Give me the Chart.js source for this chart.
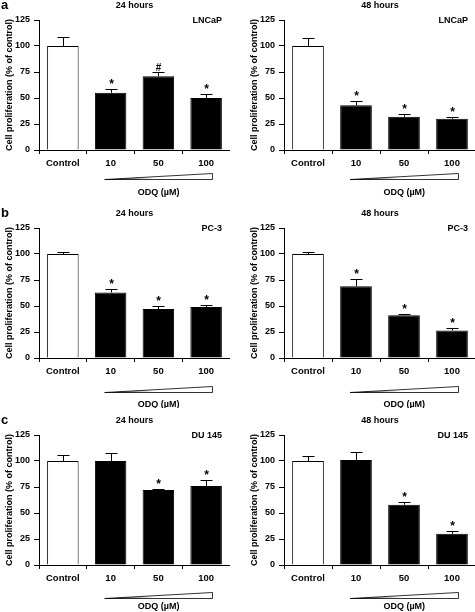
<!DOCTYPE html>
<html>
<head>
<meta charset="utf-8">
<script src="https://cdn.jsdelivr.net/npm/chart.js@4.4.1/dist/chart.umd.min.js"></script>
<style>
  html, body { margin: 0; padding: 0; background: #fff; width: 475px; height: 612px; overflow: hidden; }
  canvas { position: absolute; }
</style>
</head>
<body>
<canvas id="a24" width="230" height="200" style="left:0;top:0"></canvas>
<canvas id="a48" width="231" height="200" style="left:245px;top:0"></canvas>
<canvas id="b24" width="230" height="200" style="left:0;top:208px"></canvas>
<canvas id="b48" width="231" height="200" style="left:245px;top:208px"></canvas>
<canvas id="c24" width="230" height="200" style="left:0;top:415px"></canvas>
<canvas id="c48" width="231" height="200" style="left:245px;top:415px"></canvas>
<script>
// categories and values (% of control)
const categories = ['Control', '10', '50', '100'];
const yTicks = [0, 25, 50, 75, 100, 125];

const lncap24 = [100, 55, 71, 50];
const lncap24Err = [9, 4, 4, 4];
const lncap24Marks = ['', '*', '#', '*'];

const lncap48 = [100, 43, 32, 30];
const lncap48Err = [7.5, 4, 2.5, 1.5];
const lncap48Marks = ['', '*', '*', '*'];

const pc3_24 = [100, 63, 47, 49];
const pc3_24Err = [2, 3, 3, 2];
const pc3_24Marks = ['', '*', '*', '*'];

const pc3_48 = [100, 69, 41, 26.5];
const pc3_48Err = [2, 6.5, 1.5, 2.5];
const pc3_48Marks = ['', '*', '*', '*'];

const du24 = [100, 100, 72, 76];
const du24Err = [6, 8, 1.5, 6];
const du24Marks = ['', '', '*', '*'];

const du48 = [100, 101, 58, 30];
const du48Err = [5, 8, 3, 2.5];
const du48Marks = ['', '', '*', '*'];

const FAMILY = '"Liberation Sans", Arial, Helvetica, sans-serif';
const font = (size) => ({ family: FAMILY, size: size, weight: 'bold' });

// draws error bars, significance marks, titles and the ODQ wedge
const panelDeco = {
  id: 'panelDeco',
  afterDatasetsDraw(chart, args, o) {
    const ctx = chart.ctx, xs = chart.scales.x, ys = chart.scales.y;
    const vals = chart.data.datasets[0].data;
    ctx.save();
    ctx.strokeStyle = '#000';
    ctx.fillStyle = '#000';
    ctx.lineWidth = 1;
    vals.forEach((v, i) => {
      const px = Math.round(xs.getPixelForValue(i)) + 0.5;
      const y0 = ys.getPixelForValue(v);
      const y1 = Math.round(ys.getPixelForValue(v + o.err[i])) + 0.5;
      ctx.beginPath();
      ctx.moveTo(px, y0);
      ctx.lineTo(px, y1);
      ctx.moveTo(px - 6, y1);
      ctx.lineTo(px + 6, y1);
      ctx.stroke();
      const m = o.marks[i];
      if (m) {
        ctx.textAlign = 'center';
        ctx.textBaseline = 'alphabetic';
        ctx.font = m === '#' ? 'bold 10px ' + FAMILY : 'bold 12px ' + FAMILY;
        ctx.fillText(m, px, y1 - 2);
      }
    });
    ctx.restore();
  },
  afterDraw(chart, args, o) {
    const ctx = chart.ctx, xs = chart.scales.x, area = chart.chartArea;
    ctx.save();
    ctx.fillStyle = '#000';
    ctx.textBaseline = 'middle';
    if (o.letter) {
      ctx.font = 'bold 13px ' + FAMILY;
      ctx.textAlign = 'left';
      ctx.fillText(o.letter, 1, area.top - 15);
    }
    ctx.font = 'bold 9px ' + FAMILY;
    ctx.textAlign = 'center';
    ctx.fillText(o.title, (area.left + area.right) / 2, area.top - 14);
    ctx.textAlign = 'right';
    ctx.fillText(o.cell, area.right - 8, area.top + 1);

    // dose wedge
    const x1 = xs.getPixelForValue(1) - 6;
    const x2 = Math.round(xs.getPixelForValue(3) + 6) + 0.5;
    const yb = Math.round(area.bottom + o.wedgeY) + 0.5;
    const yt = yb - 6;
    const g = ctx.createLinearGradient(x1, 0, x2, 0);
    g.addColorStop(0, '#222');
    g.addColorStop(0.45, '#fff');
    g.addColorStop(1, '#fff');
    ctx.beginPath();
    ctx.moveTo(x1, yb);
    ctx.lineTo(x2, yb);
    ctx.lineTo(x2, yt);
    ctx.closePath();
    ctx.fillStyle = g;
    ctx.fill();
    ctx.strokeStyle = '#000';
    ctx.lineWidth = 0.8;
    ctx.stroke();

    ctx.fillStyle = '#000';
    ctx.textAlign = 'center';
    ctx.fillText('ODQ (\u00B5M)', (x1 + x2) / 2, area.bottom + o.labelY);
    ctx.restore();
  }
};

function makePanel(id, values, errs, marks, deco) {
  const ctx = document.getElementById(id).getContext('2d');
  return new Chart(ctx, {
    type: 'bar',
    data: {
      labels: categories,
      datasets: [{
        data: values,
        backgroundColor: ['#fff', '#000', '#000', '#000'],
        borderColor: '#000',
        borderWidth: 1,
        barPercentage: 0.66,
        categoryPercentage: 1
      }]
    },
    options: {
      responsive: false,
      animation: false,
      events: [],
      layout: { padding: { top: 20, left: 0, right: 0, bottom: 0 } },
      plugins: {
        legend: { display: false },
        tooltip: { enabled: false },
        panelDeco: Object.assign({ err: errs, marks: marks }, deco)
      },
      scales: {
        x: {
          afterFit: (s) => { s.height = 50; },
          grid: { offset: true, drawOnChartArea: false, drawTicks: true, tickLength: 4, color: '#000', lineWidth: 1 },
          border: { color: '#000', width: 1 },
          ticks: { color: '#000', font: font(9.5), padding: 4, maxRotation: 0 }
        },
        y: {
          min: 0,
          max: 125,
          afterFit: (s) => { s.width = 39; },
          afterBuildTicks: (s) => { s.ticks = yTicks.map(v => ({ value: v })); },
          grid: { drawOnChartArea: false, drawTicks: true, tickLength: 5, color: '#000', lineWidth: 1 },
          border: { color: '#000', width: 1 },
          ticks: { color: '#000', font: font(9), padding: 4 },
          title: {
            display: true,
            text: 'Cell proliferation (% of control)',
            color: '#000',
            font: font(9),
            padding: { top: 4, bottom: 0 }
          }
        }
      }
    },
    plugins: [panelDeco]
  });
}

makePanel('a24', lncap24, lncap24Err, lncap24Marks, { letter: 'a', title: '24 hours', cell: 'LNCaP', wedgeY: 29, labelY: 43 });
makePanel('a48', lncap48, lncap48Err, lncap48Marks, { title: '48 hours', cell: 'LNCaP', wedgeY: 29, labelY: 43 });
makePanel('b24', pc3_24, pc3_24Err, pc3_24Marks, { letter: 'b', title: '24 hours', cell: 'PC-3', wedgeY: 34, labelY: 47 });
makePanel('b48', pc3_48, pc3_48Err, pc3_48Marks, { title: '48 hours', cell: 'PC-3', wedgeY: 34, labelY: 47 });
makePanel('c24', du24, du24Err, du24Marks, { letter: 'c', title: '24 hours', cell: 'DU 145', wedgeY: 33, labelY: 42 });
makePanel('c48', du48, du48Err, du48Marks, { title: '48 hours', cell: 'DU 145', wedgeY: 33, labelY: 42 });
</script>
</body>
</html>
